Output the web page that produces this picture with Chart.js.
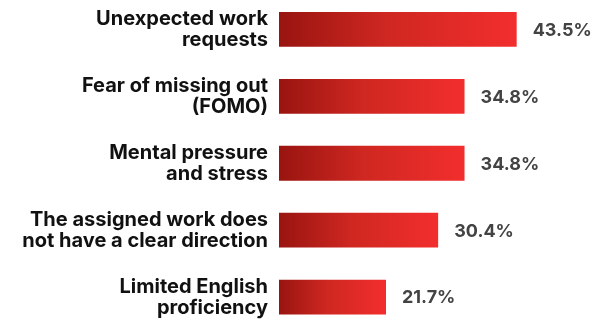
<!DOCTYPE html>
<html>
<head>
<meta charset="utf-8">
<script src="https://cdn.jsdelivr.net/npm/chart.js@4"></script>
<style>
  html, body { margin: 0; padding: 0; background: #fff; overflow: hidden; }
  body { width: 606px; height: 322px; position: relative; }
  #wrap { position: absolute; left: 0; top: -4.5px; width: 606px; height: 334.5px; }
</style>
</head>
<body>
<div id="wrap"><canvas id="c"></canvas></div>
<script>
const categories = [
  ["Unexpected work", "requests"],
  ["Fear of missing out", "(FOMO)"],
  ["Mental pressure", "and stress"],
  ["The assigned work does", "not have a clear direction"],
  ["Limited English", "proficiency"]
];
const values = [43.5, 34.8, 34.8, 30.4, 21.7];
const valueLabels = ["43.5%", "34.8%", "34.8%", "30.4%", "21.7%"];

const FONT = "Inter, 'Open Sans', sans-serif";

function barGradient(ctx) {
  const chart = ctx.chart;
  const area = chart.chartArea;
  if (!area || ctx.dataIndex === undefined) return '#d02822';
  const xs = chart.scales.x;
  const x0 = area.left;
  const x1 = xs.getPixelForValue(values[ctx.dataIndex]);
  const g = chart.ctx.createLinearGradient(x0, 0, x1, 0);
  g.addColorStop(0, '#991410');
  g.addColorStop(0.45, '#cf2721');
  g.addColorStop(1, '#f22e2d');
  return g;
}

const valueLabelPlugin = {
  id: 'valueLabels',
  afterDatasetsDraw(chart) {
    const ctx = chart.ctx;
    const meta = chart.getDatasetMeta(0);
    ctx.save();
    ctx.font = "700 18px " + FONT;
    ctx.fillStyle = '#434343';
    ctx.textAlign = 'left';
    ctx.textBaseline = 'middle';
    meta.data.forEach((bar, i) => {
      ctx.fillText(valueLabels[i], bar.x + 16, bar.y + 1);
    });
    ctx.restore();
  }
};

new Chart(document.getElementById('c'), {
  type: 'bar',
  data: {
    labels: categories,
    datasets: [{
      data: values,
      backgroundColor: barGradient,
      borderWidth: 0,
      barPercentage: 0.52,
      categoryPercentage: 1.0,
      clip: 0
    }]
  },
  options: {
    indexAxis: 'y',
    responsive: true,
    maintainAspectRatio: false,
    animation: false,
    layout: { padding: 0 },
    plugins: {
      legend: { display: false },
      tooltip: { enabled: false }
    },
    scales: {
      x: {
        display: false,
        min: 3.85,
        max: 58.4
      },
      y: {
        grid: { display: false, drawTicks: false },
        border: { display: false },
        afterFit(scale) {
          scale.width = 279;
          scale.paddingTop = 0;
          scale.paddingBottom = 0;
        },
        ticks: {
          padding: 11,
          color: '#111111',
          font: { family: FONT, size: 20, weight: '700', lineHeight: 1.05 }
        }
      }
    }
  },
  plugins: [valueLabelPlugin]
});
</script>
</body>
</html>
